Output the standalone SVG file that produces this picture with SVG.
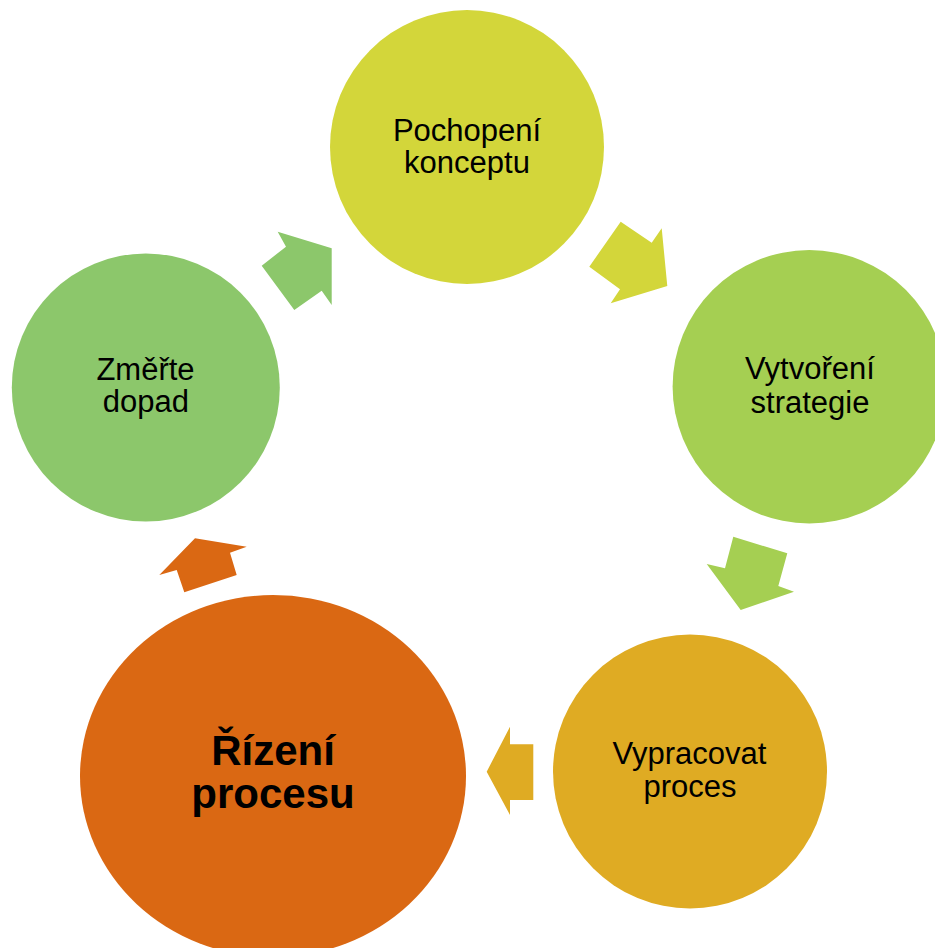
<svg xmlns="http://www.w3.org/2000/svg" width="935" height="948" viewBox="0 0 935 948">
<style>
.t{font-family:"Liberation Sans",Arial,sans-serif;font-size:31px;fill:#000;text-anchor:middle}
.b{font-family:"Liberation Sans",Arial,sans-serif;font-size:42px;font-weight:bold;fill:#000;text-anchor:middle}
</style>
<rect width="935" height="948" fill="#fff"/>
<g id="connectors">
<polygon points="277.7,231.7 331.7,248.3 331.7,305 321.7,290.7 294.3,310 261.7,265.7 286,246.7" fill="#8CC76B"/>
<polygon points="620.7,221.7 651.7,242.7 661.7,228.3 667.3,286 610.7,303.3 620,289.3 589.3,266.7" fill="#D3D63A"/>
<polygon points="733.3,536.7 787.3,553.3 778.3,586 794,591.7 740.7,610 706.7,564 725,568.3" fill="#A5CF52"/>
<polygon points="510,726.7 510,744.3 533.3,744.3 533.3,800 510,800 510,815 486.7,771.7" fill="#DFAB23"/>
<polygon points="195,538.3 246.7,546.7 230,552.7 236.7,575 184.3,592.3 176.7,570 159.3,575" fill="#DA6813"/>
</g>
<g id="pochopeni">
<circle cx="467" cy="147" r="137" fill="#D3D63A"/>
<text class="t" x="467" y="140.7">Pochopení</text>
<text class="t" x="467" y="172.7">konceptu</text>
</g>
<g id="vytvoreni">
<circle cx="809.3" cy="386.7" r="136.7" fill="#A5CF52"/>
<text class="t" x="810" y="379.3">Vytvoření</text>
<text class="t" x="810" y="413.3">strategie</text>
</g>
<g id="vypracovat">
<circle cx="690" cy="771.5" r="137" fill="#DFAB23"/>
<text class="t" x="689.5" y="764">Vypracovat</text>
<text class="t" x="690" y="797">proces</text>
</g>
<g id="rizeni">
<ellipse cx="273" cy="776" rx="193" ry="181" fill="#DA6813"/>
<text class="b" x="273" y="765">Řízení</text>
<text class="b" x="273" y="808.3">procesu</text>
</g>
<g id="zmerte">
<circle cx="145.8" cy="387.5" r="134" fill="#8CC76B"/>
<text class="t" x="145.5" y="380">Změřte</text>
<text class="t" x="145.8" y="412.3">dopad</text>
</g>
</svg>
